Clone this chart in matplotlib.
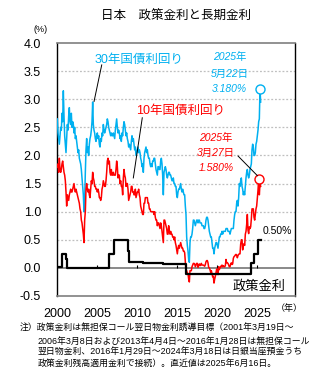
import matplotlib
matplotlib.use("Agg")
import matplotlib.pyplot as plt
import numpy as np

plt.rcParams['font.family'] = ['Liberation Sans', 'Noto Sans CJK JP', 'DejaVu Sans']

# 30年国債利回り (monthly, Jan 2000 - Jun 2025)
jgb30 = [
    2.65, 2.40, 2.30, 2.20, 2.35, 2.50, 2.45, 2.75, 2.60, 3.15, 2.70, 2.35,  # 2000
    2.20, 2.05, 2.30, 2.55, 2.45, 2.70, 2.85, 2.60, 2.55, 2.75, 2.50, 2.60,  # 2001
    2.55, 2.40, 2.50, 2.30, 2.35, 2.25, 2.15, 2.05, 2.10, 1.95, 1.90, 1.85,  # 2002
    1.75, 1.60, 1.45, 1.30, 1.00, 1.20, 1.70, 2.10, 2.30, 2.05, 2.15, 2.00,  # 2003
    2.20, 2.30, 2.35, 2.45, 2.60, 2.95, 2.55, 2.45, 2.40, 2.30, 2.25, 2.35,  # 2004
    2.40, 2.30, 2.35, 2.20, 2.15, 2.30, 2.25, 2.40, 2.35, 2.55, 2.45, 2.40,  # 2005
    2.45, 2.50, 2.55, 2.65, 2.60, 2.50, 2.45, 2.40, 2.35, 2.40, 2.35, 2.35,  # 2006
    2.40, 2.35, 2.30, 2.45, 2.55, 2.65, 2.50, 2.40, 2.45, 2.40, 2.30, 2.35,  # 2007
    2.25, 2.40, 2.35, 2.50, 2.60, 2.55, 2.45, 2.35, 2.40, 2.30, 2.25, 2.15,  # 2008
    2.20, 2.15, 2.10, 2.25, 2.35, 2.25, 2.30, 2.20, 2.10, 2.15, 2.00, 2.05,  # 2009
    2.10, 2.15, 2.05, 2.10, 2.05, 1.95, 1.90, 1.80, 1.85, 1.70, 1.95, 2.05,  # 2010
    2.10, 2.15, 2.05, 2.10, 2.00, 1.95, 1.95, 1.85, 1.80, 1.85, 1.80, 1.90,  # 2011
    1.90, 1.95, 1.95, 1.85, 1.75, 1.70, 1.65, 1.80, 1.80, 1.75, 1.75, 1.90,  # 2012
    1.95, 1.85, 1.65, 1.30, 1.70, 1.75, 1.80, 1.75, 1.65, 1.60, 1.65, 1.70,  # 2013
    1.70, 1.65, 1.65, 1.60, 1.55, 1.55, 1.60, 1.50, 1.50, 1.45, 1.45, 1.30,  # 2014
    1.25, 1.35, 1.40, 1.40, 1.45, 1.50, 1.40, 1.35, 1.40, 1.35, 1.30, 1.30,  # 2015
    1.10, 0.95, 0.55, 0.40, 0.30, 0.15, 0.10, 0.45, 0.55, 0.55, 0.60, 0.70,  # 2016
    0.85, 0.85, 0.80, 0.75, 0.80, 0.85, 0.85, 0.80, 0.85, 0.85, 0.80, 0.80,  # 2017
    0.80, 0.75, 0.75, 0.75, 0.70, 0.70, 0.75, 0.85, 0.90, 0.90, 0.85, 0.75,  # 2018
    0.65, 0.60, 0.55, 0.55, 0.45, 0.35, 0.35, 0.25, 0.35, 0.40, 0.45, 0.45,  # 2019
    0.40, 0.35, 0.45, 0.55, 0.55, 0.60, 0.60, 0.65, 0.60, 0.65, 0.65, 0.65,  # 2020
    0.65, 0.70, 0.70, 0.70, 0.65, 0.65, 0.65, 0.60, 0.65, 0.70, 0.70, 0.70,  # 2021
    0.70, 0.85, 0.95, 1.00, 1.00, 1.15, 1.20, 1.10, 1.25, 1.50, 1.45, 1.55,  # 2022
    1.60, 1.45, 1.40, 1.30, 1.35, 1.30, 1.45, 1.60, 1.70, 1.75, 1.65, 1.60,  # 2023
    1.65, 1.75, 1.80, 1.85, 2.10, 2.20, 2.15, 2.00, 2.00, 2.05, 2.20, 2.25,  # 2024
    2.35, 2.45, 2.60, 2.65, 3.18, 2.95,                                      # 2025
]

# 10年国債利回り (monthly, Jan 2000 - Jun 2025)
jgb10 = [
    1.80, 1.85, 1.70, 1.95, 1.75, 1.70, 1.75, 1.85, 1.90, 1.80, 1.70, 1.65,  # 2000
    1.55, 1.35, 1.10, 1.30, 1.25, 1.20, 1.30, 1.35, 1.40, 1.35, 1.35, 1.40,  # 2001
    1.45, 1.50, 1.40, 1.35, 1.40, 1.35, 1.30, 1.25, 1.20, 1.15, 1.05, 1.00,  # 2002
    0.85, 0.80, 0.70, 0.60, 0.45, 0.85, 1.00, 1.40, 1.50, 1.40, 1.35, 1.40,  # 2003
    1.30, 1.25, 1.40, 1.55, 1.50, 1.70, 1.60, 1.55, 1.45, 1.45, 1.40, 1.40,  # 2004
    1.35, 1.40, 1.35, 1.25, 1.25, 1.20, 1.25, 1.40, 1.45, 1.55, 1.50, 1.45,  # 2005
    1.45, 1.55, 1.70, 1.90, 1.95, 1.85, 1.90, 1.70, 1.65, 1.75, 1.65, 1.65,  # 2006
    1.70, 1.65, 1.65, 1.65, 1.75, 1.90, 1.80, 1.60, 1.65, 1.65, 1.50, 1.55,  # 2007
    1.45, 1.45, 1.30, 1.60, 1.75, 1.65, 1.60, 1.45, 1.50, 1.50, 1.40, 1.20,  # 2008
    1.25, 1.30, 1.35, 1.45, 1.45, 1.35, 1.35, 1.30, 1.30, 1.40, 1.25, 1.30,  # 2009
    1.35, 1.35, 1.40, 1.30, 1.25, 1.10, 1.05, 1.00, 0.95, 0.95, 1.15, 1.15,  # 2010
    1.25, 1.25, 1.25, 1.25, 1.15, 1.15, 1.05, 1.05, 1.00, 1.00, 1.00, 1.00,  # 2011
    1.00, 0.95, 1.00, 0.90, 0.85, 0.85, 0.75, 0.80, 0.80, 0.75, 0.70, 0.80,  # 2012
    0.75, 0.65, 0.55, 0.45, 0.85, 0.85, 0.80, 0.75, 0.70, 0.60, 0.60, 0.75,  # 2013
    0.65, 0.60, 0.65, 0.60, 0.60, 0.55, 0.55, 0.50, 0.55, 0.45, 0.40, 0.33,  # 2014
    0.25, 0.35, 0.40, 0.35, 0.40, 0.45, 0.40, 0.35, 0.35, 0.30, 0.30, 0.27,  # 2015
    0.10, -0.05, -0.05, -0.10, -0.10, -0.20, -0.25, -0.05, -0.05, -0.05, 0.02, 0.05,  # 2016
    0.08, 0.08, 0.07, 0.02, 0.05, 0.08, 0.08, 0.01, 0.05, 0.07, 0.04, 0.05,  # 2017
    0.08, 0.05, 0.05, 0.05, 0.04, 0.03, 0.06, 0.11, 0.13, 0.13, 0.09, 0.01,  # 2018
    0.00, -0.03, -0.08, -0.05, -0.10, -0.16, -0.15, -0.27, -0.20, -0.15, -0.08, -0.02,  # 2019
    -0.05, -0.12, 0.02, -0.03, 0.00, 0.03, 0.02, 0.05, 0.02, 0.04, 0.02, 0.02,  # 2020
    0.04, 0.15, 0.09, 0.09, 0.08, 0.05, 0.02, 0.02, 0.07, 0.09, 0.06, 0.07,  # 2021
    0.17, 0.20, 0.21, 0.23, 0.24, 0.23, 0.18, 0.22, 0.24, 0.25, 0.25, 0.42,  # 2022
    0.50, 0.50, 0.32, 0.40, 0.43, 0.40, 0.60, 0.65, 0.77, 0.95, 0.67, 0.61,  # 2023
    0.73, 0.70, 0.73, 0.87, 1.05, 1.05, 1.05, 0.90, 0.85, 0.95, 1.05, 1.10,  # 2024
    1.25, 1.38, 1.58, 1.30, 1.50, 1.45,                                      # 2025
]

# 政策金利 (step changes)
policy_dates = [2000.0, 2000.61, 2001.12, 2001.22, 2006.54, 2007.14, 2008.83,
                2008.97, 2010.80, 2013.26, 2016.08, 2024.21, 2024.58, 2025.07, 2025.46]
policy_vals = [0.02, 0.25, 0.15, 0.001, 0.25, 0.50, 0.30,
               0.10, 0.08, 0.07, -0.10, 0.08, 0.25, 0.50, 0.50]

months = 2000 + np.arange(len(jgb30)) / 12 + 1 / 24

blue = '#00B0F0'
red = '#FF0000'

W, H = 332, 373
fig = plt.figure(figsize=(W / 100, H / 100), dpi=100)
ax = fig.add_axes([57 / W, 1 - 296 / H, (295 - 57) / W, (296 - 43) / H])

ax.set_xlim(2000, 2029.75)
ax.set_ylim(-0.5, 4.0)

for g in np.arange(0.5, 4.0, 0.5):
    ax.axhline(g, color='#BFBFBF', lw=0.9, ls=(0, (1.5, 1.5)), zorder=0)
ax.axhline(0, color='#808080', lw=1.3, zorder=1)
ax.vlines([2005, 2010, 2015, 2020, 2025], 0, 0.06, color='black', lw=0.8, zorder=1)

ax.plot(months, jgb30, color=blue, lw=1.1, zorder=3)
ax.plot(months, jgb10, color=red, lw=1.1, zorder=3)
ax.step(policy_dates, policy_vals, where='post', color='black', lw=1.6, zorder=4)

ax.plot([2025.39], [3.18], 'o', ms=6.5, mfc='white', mec=blue, mew=1.0, zorder=5)
ax.plot([2025.24], [1.58], 'o', ms=6.5, mfc='white', mec=red, mew=1.0, zorder=5)

for s in ['top', 'bottom']:
    ax.spines[s].set_color('#7F7F7F')
    ax.spines[s].set_linewidth(1.2)
for s in ['left', 'right']:
    ax.spines[s].set_color('black')
    ax.spines[s].set_linewidth(1.0)

ax.set_yticks(np.arange(-0.5, 4.01, 0.5))
ax.set_yticklabels([f'{v:.1f}' for v in np.arange(-0.5, 4.01, 0.5)], fontsize=9)
ax.set_xticks([2000, 2005, 2010, 2015, 2020, 2025])
ax.set_xticklabels(['2000', '2005', '2010', '2015', '2020', '2025'], fontsize=9)
ax.tick_params(axis='y', length=0, pad=11.5)
ax.tick_params(axis='x', length=0, pad=8.5)

# series labels
ax.text(2010.2, 3.70, '30年国債利回り', color=blue, fontsize=9, ha='center', va='center')
ax.plot([2005.59, 2004.63], [3.61, 2.96], color='black', lw=0.7, zorder=6)
ax.text(2015.4, 2.80, '10年国債利回り', color=red, fontsize=9, ha='center', va='center')
ax.plot([2010.66, 2009.54], [2.67, 1.60], color='black', lw=0.7, zorder=6)

for v, t in zip([3.75, 3.45, 3.18], ['2025年', '5月22日', '3.180%']):
    ax.text(2021.6, v, t, color=blue, fontsize=7.5, style='italic', ha='center', va='center')
for v, t in zip([2.31, 2.05, 1.77], ['2025年', '3月27日', '1.580%']):
    ax.text(2019.9, v, t, color=red, fontsize=7.5, style='italic', ha='center', va='center')
ax.plot([2022.63, 2025.05], [1.99, 1.64], color='black', lw=0.7, zorder=6)

ax.text(2027.6, 0.66, '0.50%', color='black', fontsize=7.5, ha='center', va='center')
ax.text(2025.3, -0.33, '政策金利', color='black', fontsize=9.5, ha='center', va='center')

fig.text(176 / W, 1 - 17 / H, '日本\u3000政策金利と長期金利', fontsize=9, ha='center', va='center')
fig.text(41 / W, 1 - 30 / H, '(%)', fontsize=6.5, ha='center', va='center')
fig.text(289 / W, 1 - 308 / H, '（年）', fontsize=6.5, ha='center', va='center')

notes = [
    '注）政策金利は無担保コール翌日物金利誘導目標（2001年3月19日～',
    '2006年3月8日および2013年4月4日～2016年1月28日は無担保コール',
    '翌日物金利、2016年1月29日～2024年3月18日は日銀当座預金うち',
    '政策金利残高適用金利で接続）。直近値は2025年6月16日。',
]
ys = [328, 341, 352.5, 363]
for i, (t, y) in enumerate(zip(notes, ys)):
    fig.text((20 if i == 0 else 38) / W, 1 - y / H, t, fontsize=6.4, ha='left', va='center')

fig.savefig('out.png', dpi=100)
